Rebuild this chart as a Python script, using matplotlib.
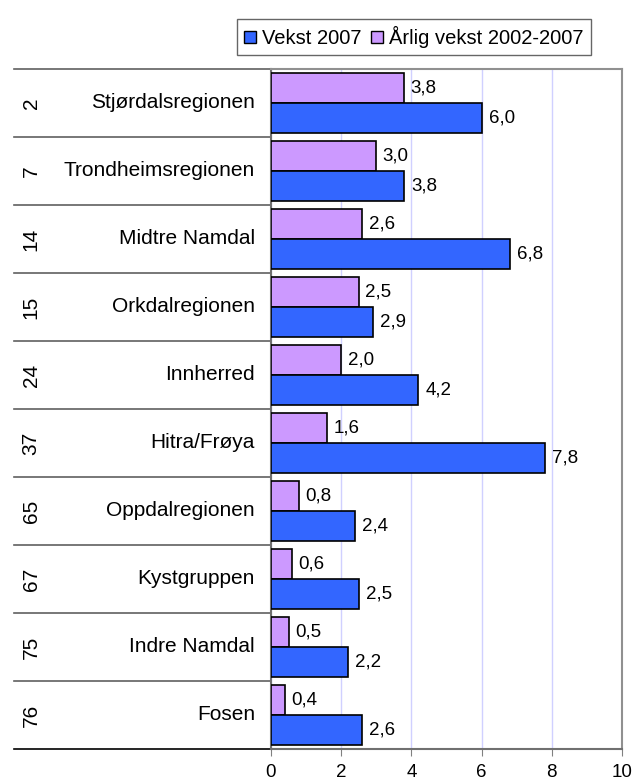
import numpy as np
import matplotlib
matplotlib.use("Agg")
import matplotlib.pyplot as plt
import matplotlib.transforms as mtransforms
from matplotlib.patches import Patch

plt.rcParams['font.family'] = ['Liberation Sans', 'DejaVu Sans']

regioner = ["Stjørdalsregionen", "Trondheimsregionen", "Midtre Namdal", "Orkdalregionen",
            "Innherred", "Hitra/Frøya", "Oppdalregionen", "Kystgruppen", "Indre Namdal", "Fosen"]
rangering = ["2", "7", "14", "15", "24", "37", "65", "67", "75", "76"]
vekst_2007 = [6.0, 3.8, 6.8, 2.9, 4.2, 7.8, 2.4, 2.5, 2.2, 2.6]
aarlig_vekst = [3.8, 3.0, 2.6, 2.5, 2.0, 1.6, 0.8, 0.6, 0.5, 0.4]

blaa = "#3366FF"
lilla = "#CC99FF"

fig = plt.figure(figsize=(6.42, 7.82), dpi=100)
ax = fig.add_axes([271/642, 1 - 749/782, 351/642, 680/782])

y = np.arange(len(regioner))
h = 0.44
ax.barh(y - h/2, aarlig_vekst, height=h, color=lilla, edgecolor="black", linewidth=1.2, zorder=3)
ax.barh(y + h/2, vekst_2007, height=h, color=blaa, edgecolor="black", linewidth=1.2, zorder=3)

for i, (a, v) in enumerate(zip(aarlig_vekst, vekst_2007)):
    ax.text(a + 0.18, i - h/2, f"{a:.1f}".replace(".", ","), va="center", ha="left", fontsize=13.5)
    ax.text(v + 0.2, i + h/2, f"{v:.1f}".replace(".", ","), va="center", ha="left", fontsize=13.5)

ax.set_xlim(0, 10)
ax.set_ylim(len(regioner) - 0.5, -0.5)
ax.set_xticks(range(0, 11, 2))
ax.tick_params(axis="x", direction="out", length=5, color="#808080", labelsize=13.5, pad=6)
ax.set_yticks([])
ax.xaxis.grid(True, color="#D0D0FF", linewidth=1, zorder=0)

for side in ["top", "right"]:
    ax.spines[side].set_color("#909090")
    ax.spines[side].set_linewidth(1.5)
for side in ["left", "bottom"]:
    ax.spines[side].set_color("#707070")
    ax.spines[side].set_linewidth(1.5)

# tabell til venstre
trans = mtransforms.blended_transform_factory(ax.transAxes, ax.transData)
x_start = (14 - 271) / 351
for k in range(len(regioner) + 1):
    farge = "black" if k == len(regioner) else "#606060"
    ax.plot([x_start, 0], [k - 0.5, k - 0.5], color=farge, linewidth=1.2,
            transform=trans, clip_on=False)
for i, (navn, rang) in enumerate(zip(regioner, rangering)):
    ax.text(-16/351, i, navn, transform=trans, ha="right", va="center", fontsize=15)
    ax.text((31 - 271)/351, i, rang, transform=trans, ha="center", va="center",
            rotation=90, fontsize=15)

handles = [Patch(facecolor=blaa, edgecolor="black", label="Vekst 2007"),
           Patch(facecolor=lilla, edgecolor="black", label="Årlig vekst 2002-2007")]
fig.legend(handles=handles, loc="upper right", bbox_to_anchor=(601/642, 1 - 9/782), ncol=2,
           fontsize=14.5, frameon=True, fancybox=False, edgecolor="#404040",
           handlelength=0.6, handleheight=0.6, handletextpad=0.3, columnspacing=0.5,
           borderpad=0.35)

fig.savefig("out.png", dpi=100)
